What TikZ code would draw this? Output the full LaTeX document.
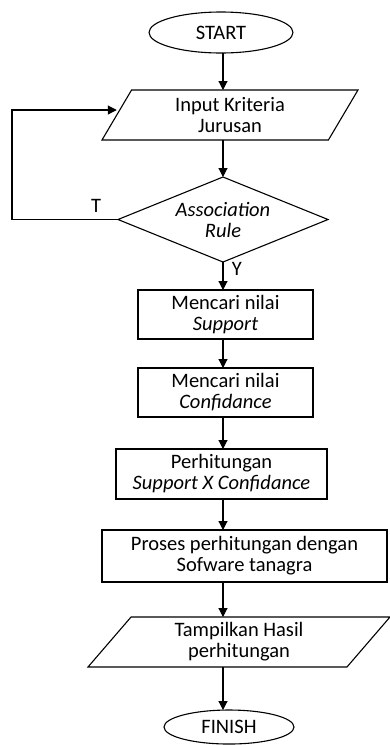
\documentclass[tikz,border=0pt]{standalone}
\usepackage{fontspec}
\setmainfont{Carlito}
\usetikzlibrary{positioning, shapes.geometric, arrows.meta}

\begin{document}
\begin{tikzpicture}[x=1pt, y=1pt, line width=1.1pt,
        font=\fontsize{20.5}{21}\selectfont,
        every node/.style={outer sep=0pt},
        startstop/.style={ellipse, draw, inner sep=0pt},
        io/.style={trapezium, trapezium stretches body, trapezium left angle=50, trapezium right angle=130, draw, align=center, minimum height=50pt, inner sep=0pt},
        decision/.style={diamond, aspect=2.5, draw, align=center, minimum width=210pt, minimum height=85pt, inner sep=0pt},
        process/.style={rectangle, draw, align=center, inner sep=0pt},
        arrow/.style={-{Triangle[length=9pt,width=9pt]}}]
        \useasboundingbox (-221,32.5) rectangle (169,-712.5);

        % Nodes
        \node[startstop, minimum width=144pt, minimum height=41pt] (S) {START};
        \node[io, minimum width=256pt] (I) [below=37pt of S, xshift=9pt] {Input Kriteria\\Jurusan};
        \node[decision] (R) [below=37pt of I, xshift=-7pt] {\textit{Association}\\\textit{Rule}};
        \node[process, minimum width=175pt, minimum height=49pt] (U) [below=28pt of R, xshift=2.5pt] {Mencari nilai\\\textit{Support}};
        \node[process, minimum width=175pt, minimum height=49pt] (C) [below=29pt of U] {Mencari nilai\\\textit{Confidance}};
        \node[process, minimum width=211pt, minimum height=50pt] (X) [below=32pt of C, xshift=-4pt] {Perhitungan\\\textit{Support X Confidance}};
        \node[process, minimum width=285pt, minimum height=52pt] (P) [below=31pt of X, xshift=23pt] {Proses perhitungan dengan\\Sofware tanagra};
        \node[io, trapezium left angle=42, trapezium right angle=138, minimum width=302pt] (H) [below=35pt of P, xshift=-5.5pt] {Tampilkan Hasil\\perhitungan};
        \node[startstop, minimum width=130pt, minimum height=34pt] (F) [below=43pt of H, xshift=-10pt] {FINISH};

        % Labels
        \node[inner sep=0pt] (T) [above left=7pt and 17pt of R.west] {T};
        \node[inner sep=0pt] (Y) [below right=0pt and 9pt of R.south] {Y};

        % Edges
        \foreach \i/\j in {S/I, I/R, R/U, U/C, C/X, X/P, P/H, H/F} {
                \draw[arrow] (\i.south -| R) -- (R |- \j.north);
        }

        % Loop back for T
        \draw[arrow] (R.west) -- ++(-106pt,0) |- ([yshift=5pt]I.west);
\end{tikzpicture}
\end{document}
